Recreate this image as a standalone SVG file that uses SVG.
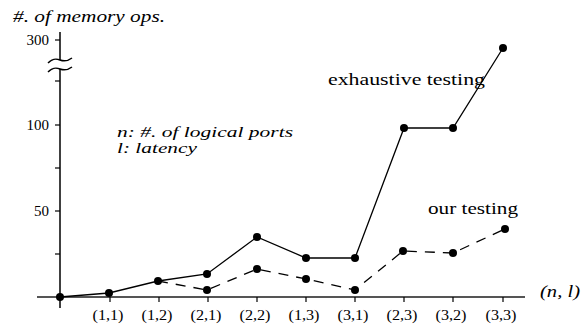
<svg xmlns="http://www.w3.org/2000/svg" width="588" height="326" viewBox="0 0 588 326">
  <style>
    text { font-family: "Liberation Serif", "Times New Roman", serif; fill: #000; }
    .it { font-style: italic; }
    .lbl { font-size: 15px; text-anchor: middle; }
    .ylbl { font-size: 15px; text-anchor: end; }
    .axis { stroke: #000; stroke-width: 1.5; fill: none; }
    .xaxis { stroke: #555; stroke-width: 2; fill: none; }
    .tick { stroke: #000; stroke-width: 1.2; }
    .solid { stroke: #000; stroke-width: 1.3; fill: none; }
    .dash { stroke: #000; stroke-width: 1.3; fill: none; stroke-dasharray: 10 8; }
    .pt { fill: #000; }
  </style>

  <!-- axes -->
  <g id="axes">
    <line class="xaxis" x1="37" y1="297" x2="525" y2="297"/>
    <line class="axis" x1="60" y1="32" x2="60" y2="60"/>
    <line class="axis" x1="60" y1="69" x2="60" y2="308"/>
    <!-- axis break -->
    <path class="axis" d="M48,63 C52,59 55,58 60,60 S68,61 72,58"/>
    <path class="axis" d="M48,72 C52,68 55,67 60,69 S68,70 72,67"/>
    <!-- y ticks -->
    <g class="tick">
      <line x1="55" y1="40" x2="60" y2="40"/>
      <line x1="55" y1="81" x2="60" y2="81"/>
      <line x1="55" y1="125" x2="60" y2="125"/>
      <line x1="55" y1="168" x2="60" y2="168"/>
      <line x1="55" y1="211" x2="60" y2="211"/>
      <line x1="55" y1="254" x2="60" y2="254"/>
    </g>
    <!-- x ticks -->
    <g class="tick">
      <line x1="110" y1="297" x2="110" y2="302"/>
      <line x1="159" y1="297" x2="159" y2="302"/>
      <line x1="208" y1="297" x2="208" y2="302"/>
      <line x1="257" y1="297" x2="257" y2="302"/>
      <line x1="306" y1="297" x2="306" y2="302"/>
      <line x1="355" y1="297" x2="355" y2="302"/>
      <line x1="404" y1="297" x2="404" y2="302"/>
      <line x1="453" y1="297" x2="453" y2="302"/>
      <line x1="503" y1="297" x2="503" y2="302"/>
    </g>
    <text class="ylbl" x="49" y="45">300</text>
    <text class="ylbl" x="49" y="130">100</text>
    <text class="ylbl" x="49" y="216">50</text>
    <text class="lbl" x="108" y="320" textLength="31" lengthAdjust="spacingAndGlyphs">(1,1)</text>
    <text class="lbl" x="157" y="320" textLength="31" lengthAdjust="spacingAndGlyphs">(1,2)</text>
    <text class="lbl" x="206" y="320" textLength="31" lengthAdjust="spacingAndGlyphs">(2,1)</text>
    <text class="lbl" x="255" y="320" textLength="31" lengthAdjust="spacingAndGlyphs">(2,2)</text>
    <text class="lbl" x="304" y="320" textLength="31" lengthAdjust="spacingAndGlyphs">(1,3)</text>
    <text class="lbl" x="353" y="320" textLength="31" lengthAdjust="spacingAndGlyphs">(3,1)</text>
    <text class="lbl" x="402" y="320" textLength="31" lengthAdjust="spacingAndGlyphs">(2,3)</text>
    <text class="lbl" x="451" y="320" textLength="31" lengthAdjust="spacingAndGlyphs">(3,2)</text>
    <text class="lbl" x="501" y="320" textLength="31" lengthAdjust="spacingAndGlyphs">(3,3)</text>
    <text class="it" x="13" y="22" font-size="16" textLength="152" lengthAdjust="spacingAndGlyphs">#. of memory ops.</text>
    <text class="it" x="540" y="297" font-size="17" textLength="40" lengthAdjust="spacingAndGlyphs">(n, l)</text>
  </g>

  <!-- legend -->
  <g id="legend">
    <text class="it" x="117" y="137" font-size="15" textLength="176" lengthAdjust="spacingAndGlyphs">n: #. of logical ports</text>
    <text class="it" x="117" y="153" font-size="15" textLength="80" lengthAdjust="spacingAndGlyphs">l: latency</text>
  </g>

  <!-- series lines -->
  <g id="connectors">
    <polyline class="solid" points="60,297 109,293 158,281 207,274 257,237 306,258 355,258 404,128 453,128 503,48"/>
    <polyline class="dash" points="158,281 207,290 257,269 306,279 355,290 403,251 453,253 505,229"/>
  </g>

  <!-- exhaustive testing series -->
  <g id="exhaustive">
    <g class="pt">
      <circle cx="60" cy="297" r="4"/>
      <circle cx="109" cy="293" r="4"/>
      <circle cx="158" cy="281" r="4"/>
      <circle cx="207" cy="274" r="4"/>
      <circle cx="257" cy="237" r="4"/>
      <circle cx="306" cy="258" r="4"/>
      <circle cx="355" cy="258" r="4"/>
      <circle cx="404" cy="128" r="4"/>
      <circle cx="453" cy="128" r="4"/>
      <circle cx="503" cy="48" r="4"/>
    </g>
    <text x="328" y="85" font-size="17" textLength="157" lengthAdjust="spacingAndGlyphs">exhaustive testing</text>
  </g>

  <!-- our testing series -->
  <g id="ours">
    <g class="pt">
      <circle cx="207" cy="290" r="4"/>
      <circle cx="257" cy="269" r="4"/>
      <circle cx="306" cy="279" r="4"/>
      <circle cx="355" cy="290" r="4"/>
      <circle cx="403" cy="251" r="4"/>
      <circle cx="453" cy="253" r="4"/>
      <circle cx="505" cy="229" r="4"/>
    </g>
    <text x="428" y="214" font-size="17" textLength="90" lengthAdjust="spacingAndGlyphs">our testing</text>
  </g>
</svg>
